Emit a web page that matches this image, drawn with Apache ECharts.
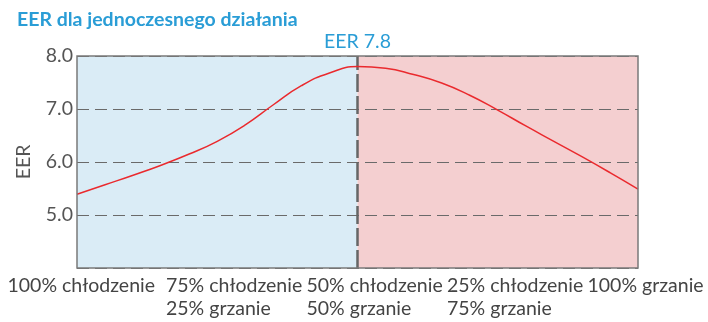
<!DOCTYPE html>
<html>
<head>
<meta charset="utf-8">
<script src="https://cdn.jsdelivr.net/npm/echarts@6/dist/echarts.min.js"></script>
<style>
  html, body { margin: 0; padding: 0; background: #fff; }
  #chart { width: 708px; height: 322px; }
</style>
</head>
<body>
<div id="chart"></div>
<script>
// Share of cooling vs heating load (0 = 100% cooling, 100 = 100% heating)
const loadShare = [0, 5, 10, 15, 20, 25, 30, 35, 40, 45, 50, 55, 60, 65, 70, 75, 80, 85, 90, 95, 100];
// EER at each load split
const eerValues = [5.39, 5.57, 5.75, 5.94, 6.15, 6.39, 6.70, 7.08, 7.44, 7.68, 7.80, 7.77, 7.65, 7.49, 7.26, 6.98, 6.68, 6.39, 6.10, 5.80, 5.49];
// Operating-mode labels under the plot
const modeLabels = [
  '100% chłodzenie',
  '75% chłodzenie\n25% grzanie',
  '50% chłodzenie\n50% grzanie',
  '25% chłodzenie\n75% grzanie',
  '100% grzanie'
];
// Value axis ticks
const eerTicks = [4, 5, 6, 7, 8];

const FONT = 'Lato';
const FS = 19.5;
const BLUE = '#2a9dd6';
const GREY_TEXT = '#555';

const balanceIdx = loadShare.indexOf(50);
const balanceEer = eerValues[balanceIdx];

const chart = echarts.init(document.getElementById('chart'), null, { renderer: 'canvas' });

const option = {
  animation: false,
  title: {
    text: 'EER dla jednoczesnego działania',
    left: 12,
    top: 5,
    textStyle: { fontFamily: FONT, fontSize: 19.5, fontWeight: 'bold', color: BLUE }
  },
  grid: [
    { left: 77, right: 70, top: 56, bottom: 54, show: true, borderColor: '#7a7a7a', borderWidth: 1.5, z: 6 },
    { left: 25.5, right: 120.5, top: 56, bottom: 54, show: false }
  ],
  xAxis: [
    {
      gridIndex: 0, type: 'value', min: loadShare[0], max: loadShare[loadShare.length - 1],
      axisLine: { show: false }, axisTick: { show: false }, axisLabel: { show: false }, splitLine: { show: false }
    },
    {
      gridIndex: 1, type: 'category', boundaryGap: false,
      data: modeLabels.map((m, i) => ({
        value: m,
        textStyle: i === 0 ? { align: 'left', padding: [0, 0, 0, -18] } : { align: 'left' }
      })),
      axisLine: { show: false }, axisTick: { show: false }, splitLine: { show: false },
      axisLabel: {
        interval: 0, margin: 6, fontFamily: FONT, fontSize: FS, lineHeight: 23, color: '#444'
      }
    }
  ],
  yAxis: [
    {
      gridIndex: 0, type: 'value', z: 4, min: eerTicks[0], max: eerTicks[eerTicks.length - 1], interval: 1,
      name: 'EER', nameLocation: 'middle', nameGap: 43, nameRotate: 90,
      nameTextStyle: { fontFamily: FONT, fontSize: FS, color: GREY_TEXT },
      axisLine: { show: false }, axisTick: { show: false },
      axisLabel: {
        showMinLabel: false, margin: 4, fontFamily: FONT, fontSize: FS, color: GREY_TEXT,
        formatter: v => v.toFixed(1)
      },
      splitLine: { show: true, lineStyle: { color: '#6a6a6a', width: 1, type: [12, 6] } }
    },
    { gridIndex: 1, type: 'value', show: false, min: 0, max: 1 }
  ],
  series: [
    {
      // cooling / heating backgrounds
      type: 'line', xAxisIndex: 0, yAxisIndex: 0, z: -1, silent: true,
      data: [],
      markArea: {
        silent: true, z: -1,
        data: [
          [{ xAxis: loadShare[0], itemStyle: { color: '#daecf6' } }, { xAxis: 50 }],
          [{ xAxis: 50, itemStyle: { color: '#f4cfd0' } }, { xAxis: loadShare[loadShare.length - 1] }]
        ]
      }
    },
    {
      type: 'line', xAxisIndex: 0, yAxisIndex: 0, z: 5,
      data: loadShare.map((x, i) => [x, eerValues[i]]),
      smooth: 0.5, showSymbol: false,
      lineStyle: { color: '#ea2a2e', width: 1.5 },
      markLine: {
        silent: true, symbol: 'none',
        lineStyle: { color: '#666', width: 2.5, type: [18, 4] },
        label: {
          position: 'end', distance: 4, fontFamily: FONT, fontSize: FS, color: BLUE,
          formatter: () => 'EER ' + balanceEer.toFixed(1)
        },
        data: [{ xAxis: loadShare[balanceIdx] }]
      }
    }
  ]
};

chart.setOption(option);
</script>
</body>
</html>
